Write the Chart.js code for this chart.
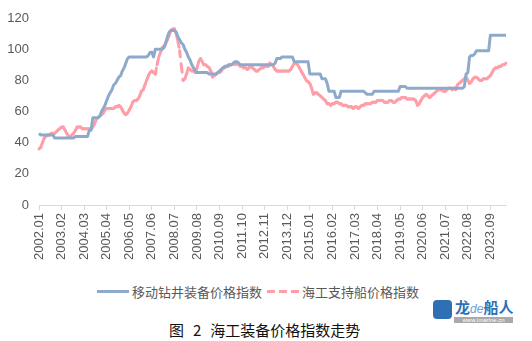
<!DOCTYPE html>
<html>
<head>
<meta charset="utf-8">
<script src="https://cdn.jsdelivr.net/npm/chart.js@4.4.1/dist/chart.umd.min.js"></script>
<style>
  body { margin: 0; background: #fff; }
  #wrap { position: relative; width: 532px; height: 341px; font-family: "Noto Sans CJK SC", sans-serif; }
  #chartBox { position: absolute; left: 0; top: 0; width: 532px; height: 272px; }
  .lg { position: absolute; font-size: 13px; color: #595959; line-height: 13px; top: 285px; white-space: nowrap; }
  .swatch { position: absolute; height: 3px; top: 290px; }
  #caption { position: absolute; left: 169px; top: 321px; font-size: 15px; line-height: 17px; color: #111; white-space: nowrap; }
  #caption span { display: inline-block; }
  #logo { position: absolute; left: 433px; top: 299px; width: 82px; height: 24px; white-space: nowrap; }
  #logo .icon { position: absolute; left: 0; top: 1px; width: 19px; height: 19px; border-radius: 4px; background: #2f6fb3; }
  #logo .name { position: absolute; left: 22px; top: -2px; font-size: 15px; line-height: 19px; font-weight: bold; color: #2f6fb3; white-space: nowrap; }
  #logo .name i { font-family: "Liberation Sans", sans-serif; font-weight: normal; font-size: 12px; color: #6fa0d6; }
  #logo .url { position: absolute; left: 21px; top: 18px; width: 59px; height: 6px; background: #a9a9a9; color: #fff; font: 6px/6px "Liberation Sans", sans-serif; text-align: center; white-space: nowrap; overflow: hidden; }
</style>
</head>
<body>
<div id="wrap">
  <div id="chartBox"><canvas id="priceChart"></canvas></div>
  <div class="swatch" style="left:97px;width:32px;background:#8eaacb;"></div>
  <div class="lg" style="left:132px;">移动钻井装备价格指数</div>
  <div class="swatch" style="left:267px;width:8px;background:#ff9ea8;"></div>
  <div class="swatch" style="left:279px;width:8px;background:#ff9ea8;"></div>
  <div class="swatch" style="left:291px;width:8px;background:#ff9ea8;"></div>
  <div class="lg" style="left:302px;">海工支持船价格指数</div>
  <div id="logo"><div class="icon"></div><div class="name">龙<i>de</i>船人</div><div class="url">www.imarine.cn</div></div>
  <div id="caption"><span>图</span><span style="margin-left:9px;">2</span><span style="margin-left:9px;">海工装备价格指数走势</span></div>
</div>
<script>
// monthly series, 2002.01 - 2024.06
const startYear = 2002;
const monthCount = 270;
const labelStep = 13;

const drillIndex = [
  46, 45, 45, 45, 45, 45, 45, 45, 45, 43, 43, 43,          // 2002
  43, 43, 43, 43, 43, 43, 43, 43, 43, 44, 44, 44,          // 2003
  44, 44, 44, 44, 44, 48, 48, 56, 56, 56, 56, 57,          // 2004
  60, 62, 64, 67, 70, 72, 74, 77, 78, 80, 82, 83,          // 2005
  86, 88, 91, 94, 95, 95, 95, 95, 95, 95, 95, 95,          // 2006
  95, 95, 95, 96, 98, 98, 95, 100, 100, 100, 100, 100,     // 2007
  101, 104, 108, 111, 112, 112, 112, 111, 108, 106, 104, 103, // 2008
  100, 98, 95, 93, 90, 88, 86, 85, 85, 85, 85, 85,         // 2009
  85, 85, 84, 84, 84, 84, 84, 85, 86, 87, 88, 89,          // 2010
  89, 90, 90, 90, 91, 92, 92, 91, 90, 90, 90, 90,          // 2011
  90, 90, 90, 90, 90, 90, 90, 90, 90, 90, 90, 90,          // 2012
  90, 90, 90, 90, 91, 94, 94, 94, 95, 95, 95, 95,          // 2013
  95, 95, 95, 92, 92, 92, 92, 92, 92, 92, 92, 92,          // 2014
  84, 84, 84, 84, 84, 84, 84, 81, 81, 81, 78, 73,          // 2015
  73, 73, 73, 69, 69, 69, 73, 73, 73, 73, 73, 73,          // 2016
  73, 73, 73, 73, 73, 73, 73, 73, 72, 71, 71, 71,          // 2017
  71, 73, 73, 73, 73, 73, 73, 73, 73, 73, 73, 73,          // 2018
  73, 73, 73, 73, 76, 76, 76, 76, 75, 75, 75, 75,          // 2019
  75, 75, 75, 75, 75, 75, 75, 75, 75, 75, 75, 75,          // 2020
  75, 75, 75, 75, 75, 75, 75, 75, 75, 75, 75, 75,          // 2021
  75, 75, 75, 75, 75, 76, 84, 85, 95, 96, 96, 97,          // 2022
  99, 99, 99, 99, 99, 99, 99, 99, 109, 109, 109, 109,      // 2023
  109, 109, 109, 109, 109, 109                             // 2024
];

const vesselIndex = [
  36, 37, 40, 43, 44, 45, 45, 46, 46, 46, 47, 48,          // 2002
  49, 50, 50, 48, 46, 44, 44, 45, 46, 48, 50, 50,          // 2003
  50, 49, 49, 49, 49, 49, 49, 50, 52, 55, 56, 57,          // 2004
  58, 59, 61, 62, 62, 62, 62, 62, 63, 63, 64, 63,          // 2005
  61, 59, 58, 59, 61, 63, 66, 67, 67, 68, 70, 73,          // 2006
  74, 77, 80, 83, 85, 86, 85, 84, 90, 95, 98, 101,         // 2007
  102, 104, 106, 109, 112, 113, 113, 110, 105, 99, 89, 80, // 2008
  81, 84, 88, 87, 86, 86, 85, 88, 92, 94, 92, 90,          // 2009
  90, 89, 88, 86, 82, 83, 84, 85, 85, 86, 88, 88,          // 2010
  89, 89, 90, 90, 91, 90, 91, 90, 89, 89, 88, 88,          // 2011
  87, 88, 89, 88, 87, 86, 86, 87, 88, 88, 89, 89,          // 2012
  89, 91, 90, 89, 87, 86, 86, 86, 86, 86, 86, 86,          // 2013
  86, 87, 89, 91, 91, 90, 88, 86, 84, 82, 80, 79,          // 2014
  78, 75, 71, 72, 72, 71, 70, 69, 68, 67, 65, 65,          // 2015
  64, 65, 65, 66, 66, 65, 65, 64, 64, 64, 63, 63,          // 2016
  63, 62, 63, 63, 62, 63, 64, 64, 65, 65, 65, 65,          // 2017
  66, 66, 66, 67, 67, 67, 67, 66, 66, 66, 67, 67,          // 2018
  66, 66, 67, 68, 68, 69, 69, 69, 68, 68, 68, 68,          // 2019
  68, 67, 64, 65, 67, 69, 70, 71, 70, 69, 70, 71,          // 2020
  72, 73, 74, 74, 74, 73, 73, 74, 75, 75, 74, 75,          // 2021
  74, 77, 78, 79, 80, 81, 82, 80, 78, 79, 81, 82,          // 2022
  82, 81, 80, 80, 81, 81, 81, 82, 83, 85, 87, 88,          // 2023
  88, 89, 89, 90, 90, 91                                   // 2024
];

const yTicks = [0, 20, 40, 60, 80, 100, 120];

const monthLabels = [];
for (let i = 0; i < monthCount; i++) {
  const y = startYear + Math.floor(i / 12);
  const m = (i % 12) + 1;
  monthLabels.push(y + '.' + (m < 10 ? '0' + m : m));
}

const axisGrey = '#d9d9d9';
const textGrey = '#595959';
const tickFont = { family: 'Liberation Sans', size: 13 };

new Chart(document.getElementById('priceChart'), {
  type: 'line',
  data: {
    labels: monthLabels,
    datasets: [
      {
        label: '移动钻井装备价格指数',
        data: drillIndex,
        borderColor: '#8eaacb',
        borderWidth: 3,
        borderJoinStyle: 'round',
        pointRadius: 0,
        tension: 0
      },
      {
        label: '海工支持船价格指数',
        data: vesselIndex,
        borderColor: '#ff9ea8',
        borderWidth: 3,
        borderDash: [6, 7],
        borderCapStyle: 'round',
        pointRadius: 0,
        tension: 0,
        // restart the dash on every segment, so only long steep runs show gaps
        segment: {
          borderDashOffset: ctx => (ctx.p0DataIndex % 2 ? 0.01 : 0)
        }
      }
    ]
  },
  options: {
    responsive: true,
    maintainAspectRatio: false,
    animation: false,
    layout: { padding: { top: 18, right: 26, left: 0, bottom: 0 } },
    plugins: {
      legend: { display: false },
      tooltip: { enabled: false }
    },
    scales: {
      x: {
        type: 'category',
        offset: false,
        afterFit: s => { s.height = 67; },
        border: { display: true, color: axisGrey, width: 1 },
        grid: {
          drawOnChartArea: false,
          drawTicks: true,
          tickLength: 5,
          offset: false,
          color: ctx => (ctx.index % labelStep === 0 ? axisGrey : 'rgba(0,0,0,0)')
        },
        ticks: {
          autoSkip: false,
          minRotation: 90,
          maxRotation: 90,
          padding: 3,
          color: textGrey,
          font: tickFont,
          callback: (v, i) => (i % labelStep === 0 ? monthLabels[i] : '')
        }
      },
      y: {
        min: 0,
        max: 120,
        afterFit: s => { s.width = 39; },
        afterBuildTicks: s => { s.ticks = yTicks.map(v => ({ value: v })); },
        border: { display: false },
        grid: { display: false, drawTicks: false },
        ticks: {
          padding: 10,
          color: textGrey,
          font: tickFont
        }
      }
    }
  }
});
</script>
</body>
</html>
